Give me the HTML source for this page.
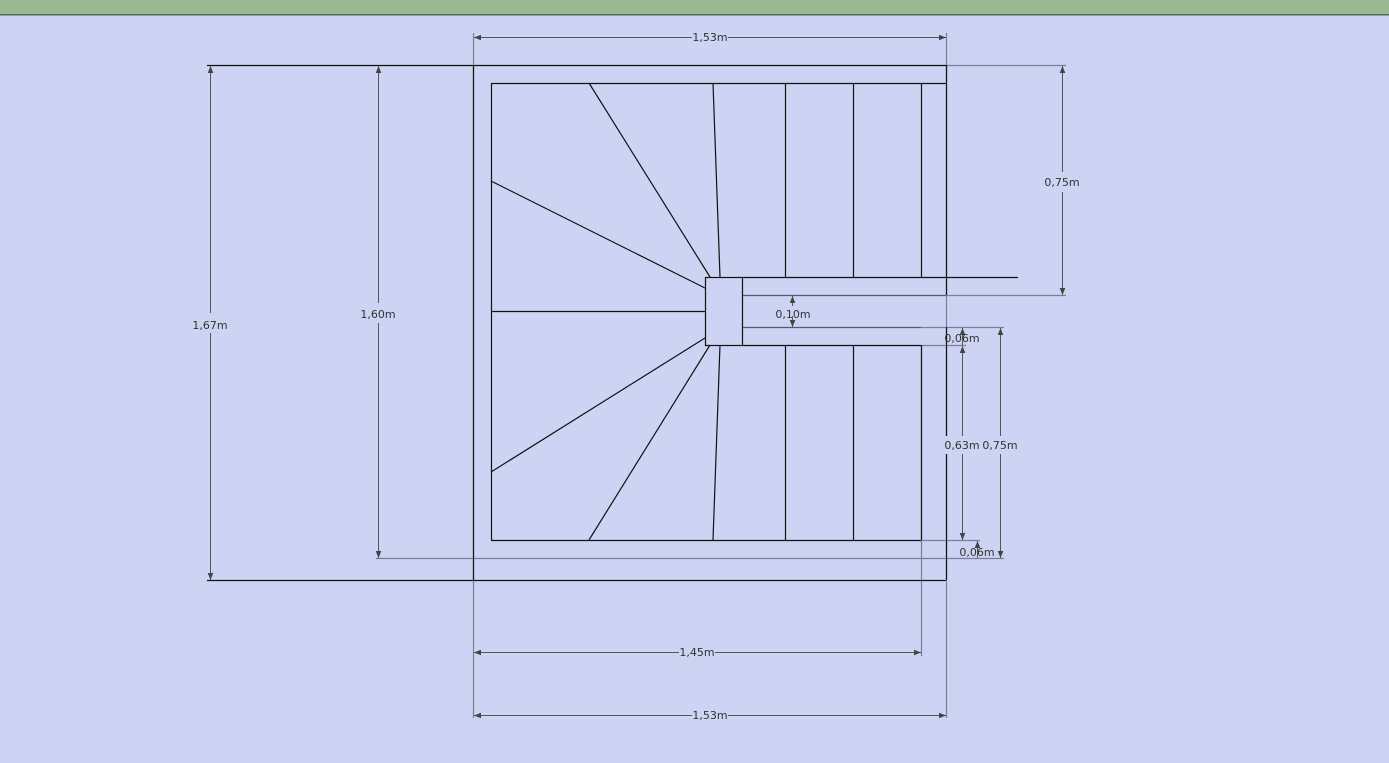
<!DOCTYPE html>
<html><head><meta charset="utf-8"><style>
html,body{margin:0;padding:0;width:1389px;height:763px;overflow:hidden;background:#cdd3f3}
svg{display:block}
text{font-family:"DejaVu Sans","Liberation Sans",sans-serif;font-size:11px;fill:#333}
</style></head><body>
<svg width="1389" height="763" viewBox="0 0 1389 763">
<defs>
<marker id="a" viewBox="0 0 10 10" refX="10" refY="5" markerWidth="7" markerHeight="7" orient="auto-start-reverse" markerUnits="userSpaceOnUse"><path d="M0,1 L10,5 L0,9 z" fill="#444"/></marker>
</defs>
<rect x="0" y="0" width="1389" height="14" fill="#9aba8e"/>
<rect x="0" y="14" width="1389" height="1.5" fill="#5a6a5a"/>
<rect x="0" y="15.5" width="1389" height="748" fill="#cdd3f3"/>

<g stroke="#7a7f95" stroke-width="1.2" fill="none">
<line x1="473.5" y1="33" x2="473.5" y2="718"/>
<line x1="946.5" y1="33" x2="946.5" y2="718"/>
<line x1="921.5" y1="345" x2="921.5" y2="656"/>
<line x1="946" y1="295.5" x2="1066" y2="295.5"/>
<line x1="921" y1="327.5" x2="1004" y2="327.5"/>
<line x1="921" y1="345.5" x2="966" y2="345.5"/>
<line x1="921" y1="540.5" x2="980" y2="540.5"/>
<line x1="376" y1="558.5" x2="1004" y2="558.5"/>
<line x1="946" y1="65.5" x2="1066" y2="65.5"/>
</g>
<g stroke="#555a6e" stroke-width="1.3" fill="none">
<line x1="742" y1="295.5" x2="946" y2="295.5"/>
<line x1="742" y1="327.5" x2="921" y2="327.5"/>
</g>
<g stroke="#555" stroke-width="1" fill="none">
<line x1="474" y1="37.5" x2="946" y2="37.5" marker-start="url(#a)" marker-end="url(#a)"/>
<line x1="474" y1="652.5" x2="921" y2="652.5" marker-start="url(#a)" marker-end="url(#a)"/>
<line x1="474" y1="715.5" x2="946" y2="715.5" marker-start="url(#a)" marker-end="url(#a)"/>
<line x1="210.5" y1="66" x2="210.5" y2="580" marker-start="url(#a)" marker-end="url(#a)"/>
<line x1="378.5" y1="66" x2="378.5" y2="558" marker-start="url(#a)" marker-end="url(#a)"/>
<line x1="1062.5" y1="66" x2="1062.5" y2="295" marker-start="url(#a)" marker-end="url(#a)"/>
<line x1="962.5" y1="346" x2="962.5" y2="540" marker-start="url(#a)" marker-end="url(#a)"/>
<line x1="1000.5" y1="328" x2="1000.5" y2="558" marker-start="url(#a)" marker-end="url(#a)"/>
<line x1="792.5" y1="296" x2="792.5" y2="306" marker-start="url(#a)"/>
<line x1="792.5" y1="316" x2="792.5" y2="327" marker-end="url(#a)"/>
<line x1="962.5" y1="328" x2="962.5" y2="345" marker-start="url(#a)"/>
<line x1="977.5" y1="541" x2="977.5" y2="558" marker-start="url(#a)"/>
</g>
<g stroke="#111" stroke-width="1.2" fill="none">
<line x1="207" y1="65.5" x2="946" y2="65.5"/>
<line x1="207" y1="580.5" x2="946" y2="580.5"/>
<line x1="473.5" y1="65" x2="473.5" y2="580"/>
<line x1="946.5" y1="65" x2="946.5" y2="295"/>
<line x1="946.5" y1="327" x2="946.5" y2="580"/>
<line x1="491.5" y1="83.5" x2="946" y2="83.5"/>
<line x1="491.5" y1="83" x2="491.5" y2="540"/>
<line x1="491" y1="540.5" x2="921" y2="540.5"/>
<line x1="921.5" y1="83" x2="921.5" y2="277"/>
<line x1="921.5" y1="345" x2="921.5" y2="540"/>
<rect x="705.5" y="277.5" width="37" height="68"/>
<line x1="742" y1="277.5" x2="1018" y2="277.5"/>
<line x1="742" y1="345.5" x2="921" y2="345.5"/>
<line x1="785.5" y1="83" x2="785.5" y2="277"/>
<line x1="853.5" y1="83" x2="853.5" y2="277"/>
<line x1="785.5" y1="345" x2="785.5" y2="540"/>
<line x1="853.5" y1="345" x2="853.5" y2="540"/>
<line x1="713" y1="83" x2="720" y2="277"/>
<line x1="589" y1="83" x2="710" y2="277"/>
<line x1="491" y1="181" x2="705" y2="288"/>
<line x1="491" y1="311.5" x2="705" y2="311.5"/>
<line x1="491" y1="472" x2="705" y2="338"/>
<line x1="589" y1="540" x2="710" y2="345"/>
<line x1="713" y1="540" x2="720" y2="345"/>
</g>
<g text-anchor="middle">
<rect x="692" y="31" width="36" height="12" fill="#cdd3f3"/><text x="710" y="41">1,53m</text>
<rect x="679" y="646" width="36" height="12" fill="#cdd3f3"/><text x="697" y="656">1,45m</text>
<rect x="692" y="709" width="36" height="12" fill="#cdd3f3"/><text x="710" y="719">1,53m</text>
<rect x="192" y="313" width="36" height="20" fill="#cdd3f3"/><text x="210" y="329">1,67m</text>
<rect x="360" y="303" width="36" height="20" fill="#cdd3f3"/><text x="378" y="318">1,60m</text>
<rect x="1044" y="172" width="36" height="20" fill="#cdd3f3"/><text x="1062" y="186">0,75m</text>
<text x="793" y="318">0,10m</text>
<text x="962" y="342">0,06m</text>
<rect x="944" y="436" width="36" height="18" fill="#cdd3f3"/><text x="962" y="449">0,63m</text>
<rect x="982" y="436" width="36" height="18" fill="#cdd3f3"/><text x="1000" y="449">0,75m</text>
<text x="977" y="556">0,06m</text>
</g>
</svg>
</body></html>
